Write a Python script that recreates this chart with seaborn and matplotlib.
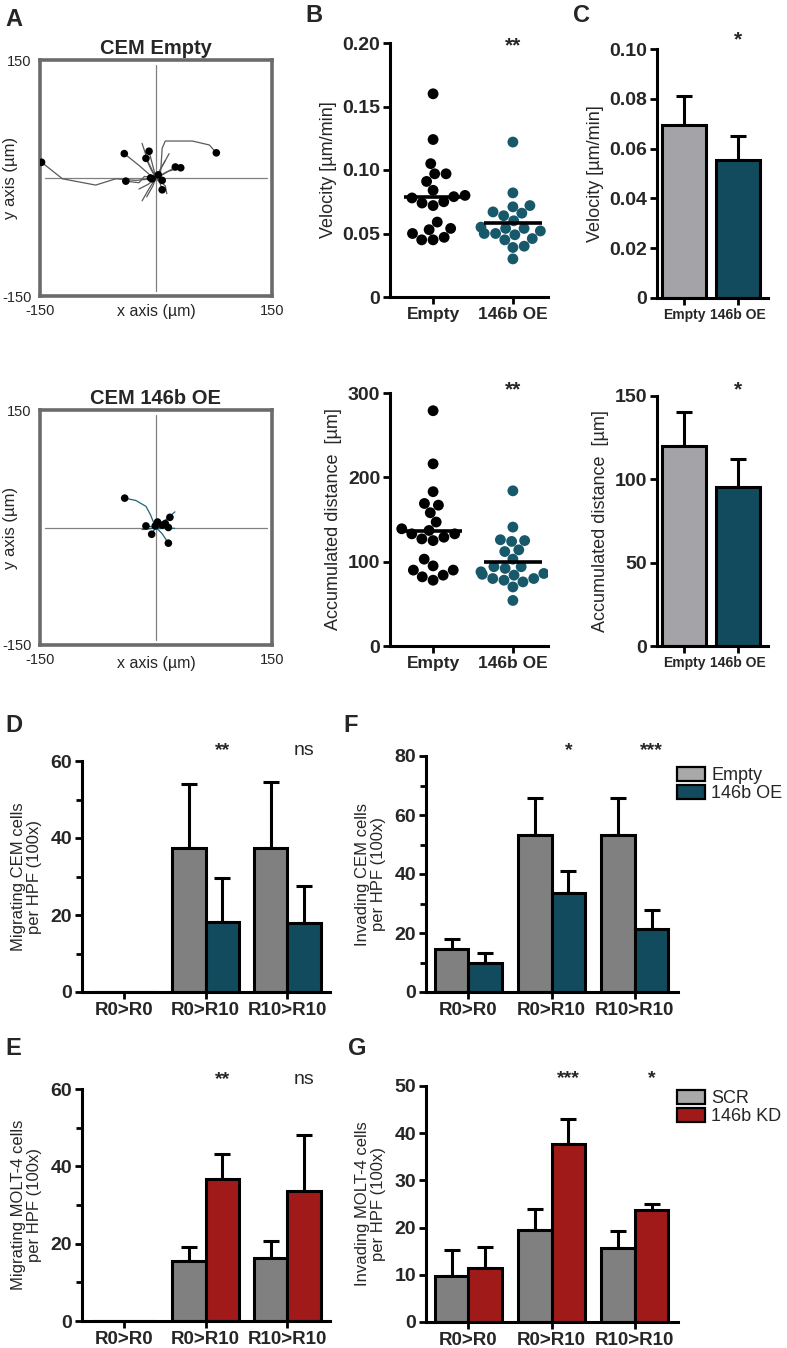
import numpy as np
import pandas as pd
import matplotlib
matplotlib.use("Agg")
import matplotlib.pyplot as plt
from matplotlib.patches import Patch
from matplotlib.ticker import MultipleLocator
import seaborn as sns

# --- data ---
GROUPS = ["Empty", "146b OE"]
KD_GROUPS = ["SCR", "146b KD"]
CONDITIONS = ["R0>R0", "R0>R10", "R10>R10"]

# A: cell tracks in um, each track runs from the origin to the final cell position
EMPTY_TRACKS = [
    [(0, 0), (-5, -1), (-26, -3), (-52, -1), (-78, -9), (-121, -1), (-148, 20)],
    [(0, 0), (2, 0), (6, 8), (8, 38), (12, 47), (47, 47), (69, 42), (78, 32)],
    [(0, 0), (-8, 4), (-22, 16), (-41, 31)],
    [(0, 0), (-4, 15), (-9, 34)],
    [(0, 0), (-6, 10), (-13, 25)],
    [(0, 0), (-15, 2), (-22, -6), (-39, -4)],
    [(0, 0), (10, 5), (25, 14)],
    [(0, 0), (14, 8), (32, 13)],
    [(0, 0), (5, -6), (8, -15)],
    [(0, 0), (-5, -1)],
    [(0, 0), (3, 4)],
    [(0, 0), (8, -3)],
    [(0, 0), (-7, 0)],
    [(0, 0), (-8, -12), (-18, -29)],
    [(0, 0), (-10, 20), (-18, 44)],
    [(0, 0), (8, 15), (17, 31)],
    [(0, 0), (-10, -8), (-22, -14)],
    [(0, 0), (12, -10), (14, -20)],
    [(0, 0), (-4, -10), (-12, -24)],
    [(0, 0), (6, 12), (12, 22)],
]
EMPTY_MARKED = [True] * 13 + [False] * 7

OE_TRACKS = [
    [(0, 0), (-2.6, 5), (-7, 16), (-13, 27), (-26, 34.5), (-40.5, 37.5)],
    [(0, 0), (10, 6), (18, 13)],
    [(0, 0), (8, -8), (16, -20)],
    [(0, 0), (-6, 1), (-13, 2)],
    [(0, 0), (-3, -4), (-5.6, -8.6)],
    [(0, 0), (2, 7)],
    [(0, 0), (8, 3)],
    [(0, 0), (12, 5)],
    [(0, 0), (16, 0)],
    [(0, 0), (-1, 2)],
    [(0, 0), (15, 12), (24.5, 20)],
    [(0, 0), (-10, -2), (-18, -2.6)],
    [(0, 0), (10, -1), (24, -1)],
]
OE_MARKED = [True] * 10 + [False] * 3

# B: single cell values
VEL_EMPTY = [0.160, 0.124, 0.105, 0.097, 0.097, 0.091, 0.084, 0.080, 0.078, 0.075,
             0.079, 0.074, 0.072, 0.059, 0.053, 0.054, 0.047, 0.050, 0.045, 0.045]
VEL_OE = [0.122, 0.082, 0.071, 0.072, 0.066, 0.064, 0.067, 0.060, 0.055, 0.054,
          0.054, 0.052, 0.050, 0.049, 0.050, 0.045, 0.046, 0.039, 0.040, 0.030]
DIST_EMPTY = [279, 216, 183, 167, 169, 158, 147, 137, 139, 133, 133,
              129, 125, 127, 103, 95, 90, 90, 84, 82, 78]
DIST_OE = [184, 141, 124, 125, 126, 112, 114, 103, 92, 94, 94,
           84, 85, 86, 88, 80, 80, 76, 78, 70, 54]

# C: mean + SEM
C_VEL_MEAN = [0.0693, 0.0554]
C_VEL_ERR = [0.0117, 0.0097]
C_DIST_MEAN = [120.0, 95.6]
C_DIST_ERR = [20.6, 16.4]

# D-G: cells per HPF, mean + error
D_EMPTY = [0, 37.3, 37.3]
D_EMPTY_ERR = [0, 16.6, 17.2]
D_OE = [0, 18.2, 17.9]
D_OE_ERR = [0, 11.3, 9.6]

F_EMPTY = [14.7, 53.2, 53.2]
F_EMPTY_ERR = [3.1, 12.7, 12.7]
F_OE = [9.8, 33.6, 21.2]
F_OE_ERR = [3.4, 7.4, 6.7]

E_SCR = [0, 15.6, 16.2]
E_SCR_ERR = [0, 3.6, 4.5]
E_KD = [0, 36.7, 33.6]
E_KD_ERR = [0, 6.5, 14.6]

G_SCR = [9.8, 19.4, 15.6]
G_SCR_ERR = [5.5, 4.6, 3.7]
G_KD = [11.5, 37.7, 23.8]
G_KD_ERR = [4.3, 5.4, 1.1]

D_SIG = ["", "**", "ns"]
F_SIG = ["", "*", "***"]
E_SIG = ["", "**", "ns"]
G_SIG = ["", "***", "*"]

# --- style ---
GRAY_LIGHT = "#a4a3a8"
GRAY_DARK = "#808080"
TEAL = "#124b5d"
TEAL_DOT = "#17586b"
RED = "#a01a1a"

sns.set_theme(style="ticks")
plt.rcParams["font.family"] = ["Liberation Sans", "DejaVu Sans"]

W, H = 787, 1348
fig = plt.figure(figsize=(W / 100, H / 100), dpi=100)


def add_ax(x0, y0, x1, y1):
    return fig.add_axes([x0 / W, 1 - y1 / H, (x1 - x0) / W, (y1 - y0) / H])


def style_axis(ax):
    sns.despine(ax=ax)
    for s in ["left", "bottom"]:
        ax.spines[s].set_linewidth(2.2)
        ax.spines[s].set_color("black")
    ax.tick_params(axis="both", which="major", direction="out", length=5, width=2,
                   color="black", pad=2)
    ax.tick_params(axis="both", which="minor", direction="out", length=4, width=2,
                   color="black")


def sig_text(ax, x, s, raise_pt, size=14):
    # glyph centre sits roughly raise_pt above the top of the axis
    ax.annotate(s, xy=(x, ax.get_ylim()[1]), xytext=(0, raise_pt - 0.4 * size),
                textcoords="offset points", ha="center", va="baseline",
                fontsize=size, fontweight="normal" if s == "ns" else "bold",
                annotation_clip=False)


# --- A: track plots ---
def track_panel(box, tracks, marked, line_color, title, xlab_y):
    ax = add_ax(*box)
    rows = []
    for i, tr in enumerate(tracks):
        for j, (x, y) in enumerate(tr):
            rows.append({"track": i, "step": j, "x": x, "y": y})
    df = pd.DataFrame(rows)
    ax.axhline(0, xmin=0.02, xmax=0.98, color="#808080", lw=0.9, zorder=1)
    ax.axvline(0, ymin=0.02, ymax=0.98, color="#808080", lw=0.9, zorder=1)
    sns.lineplot(data=df, x="x", y="y", units="track", estimator=None, sort=False,
                 color=line_color, lw=0.9, ax=ax, zorder=2)
    ends = df.groupby("track").tail(1).reset_index(drop=True)
    ends = ends[np.array(marked)]
    sns.scatterplot(data=ends, x="x", y="y", color="black", s=30, edgecolor="none",
                    ax=ax, zorder=3)
    ax.set_xlim(-150, 150)
    ax.set_ylim(-150, 150)
    ax.set_xticks([-150, 150], ["-150", "150"], fontsize=10.5)
    ax.set_yticks([-150, 150], ["-150", "150"], fontsize=10.5)
    ax.tick_params(length=0, pad=6)
    for s in ax.spines.values():
        s.set_visible(True)
        s.set_color("#6b6b6b")
        s.set_linewidth(2.6)
    ax.set_xlabel("x axis (\u00b5m)", fontsize=11.5)
    ax.xaxis.set_label_coords(0.5, xlab_y)
    ax.set_ylabel("y axis (\u00b5m)", fontsize=12)
    ax.yaxis.set_label_coords(-0.095, 0.5)
    ax.set_title(title, fontsize=14.5, fontweight="bold", pad=4)
    ax.set_facecolor("white")


track_panel((40, 60, 272, 296), EMPTY_TRACKS, EMPTY_MARKED, "#5a5a5a", "CEM Empty", -0.035)
track_panel((40, 410, 272, 645), OE_TRACKS, OE_MARKED, "#1f6377", "CEM 146b OE", -0.045)


# --- B: scatter with mean ---
def swarm_panel(box, empty_vals, oe_vals, ylim, ticks, labels, ylabel, sig_raise):
    ax = add_ax(*box)
    df = pd.DataFrame({
        "group": [GROUPS[0]] * len(empty_vals) + [GROUPS[1]] * len(oe_vals),
        "value": list(empty_vals) + list(oe_vals),
    })
    sns.swarmplot(data=df, x="group", y="value", hue="group", order=GROUPS,
                  palette=["black", TEAL_DOT], size=7.8, legend=False, ax=ax, zorder=2)
    means = df.groupby("group")["value"].mean().reindex(GROUPS)
    for i, m in enumerate(means):
        ax.plot([i - 0.36, i + 0.36], [m, m], color="black", lw=2.6, zorder=4,
                solid_capstyle="butt")
    ax.set_xlim(-0.54, 1.44)
    ax.set_ylim(*ylim)
    style_axis(ax)
    ax.set_yticks(ticks, labels, fontsize=14, fontweight="bold")
    ax.set_xticks([0, 1], GROUPS, fontsize=12.5, fontweight="bold")
    ax.set_xlabel("")
    ax.set_ylabel(ylabel, fontsize=13, labelpad=4)
    sig_text(ax, 1, "**", sig_raise, size=15)
    return ax


swarm_panel((390, 43, 548, 297), VEL_EMPTY, VEL_OE, (0, 0.20),
            [0, 0.05, 0.10, 0.15, 0.20], ["0", "0.05", "0.10", "0.15", "0.20"],
            "Velocity [\u00b5m/min]", 0)
swarm_panel((390, 393, 548, 646), DIST_EMPTY, DIST_OE, (0, 300),
            [0, 100, 200, 300], ["0", "100", "200", "300"],
            "Accumulated distance  [\u00b5m]", 4.3)


def add_errors(ax, containers, errs):
    for cont, err in zip(containers, errs):
        for bar, e in zip(cont, err):
            if e <= 0:
                continue
            x = bar.get_x() + bar.get_width() / 2
            top = bar.get_height()
            ax.errorbar(x, top, yerr=[[0], [e]], color="black", elinewidth=2.2,
                        capsize=6, capthick=2.2, fmt="none", zorder=0.5)


# --- C: simple bars ---
def bar_panel(box, means, errs, ylim, ticks, labels, ylabel, sig_raise):
    ax = add_ax(*box)
    df = pd.DataFrame({"group": GROUPS, "value": means})
    sns.barplot(data=df, x="group", y="value", hue="group", order=GROUPS,
                palette=[GRAY_LIGHT, TEAL], saturation=1, width=0.81, errorbar=None,
                edgecolor="black", linewidth=2.2, legend=False, ax=ax, zorder=2)
    add_errors(ax, [[b] for b in ax.patches], [[e] for e in errs])
    ax.set_xlim(-0.5, 1.56)
    ax.set_ylim(*ylim)
    style_axis(ax)
    ax.set_yticks(ticks, labels, fontsize=14, fontweight="bold")
    ax.set_xticks([0, 1], GROUPS, fontsize=10, fontweight="bold")
    ax.set_xlabel("")
    ax.set_ylabel(ylabel, fontsize=13, labelpad=4)
    sig_text(ax, 1, "*", sig_raise, size=15)
    return ax


bar_panel((657, 49, 768, 298), C_VEL_MEAN, C_VEL_ERR, (0, 0.10),
          [0, 0.02, 0.04, 0.06, 0.08, 0.10], ["0", "0.02", "0.04", "0.06", "0.08", "0.10"],
          "Velocity [\u00b5m/min]", 8.6)
bar_panel((657, 396, 768, 646), C_DIST_MEAN, C_DIST_ERR, (0, 150),
          [0, 50, 100, 150], ["0", "50", "100", "150"],
          "Accumulated distance  [\u00b5m]", 6.5)


# --- D-G: grouped bars ---
def grouped_panel(box, names, vals, errs, colors, ymax, major, minor, ylabel,
                  sigs, sig_raise, legend_colors=None, legend_y=None):
    ax = add_ax(*box)
    df = pd.DataFrame({
        "condition": CONDITIONS * 2,
        "group": [names[0]] * 3 + [names[1]] * 3,
        "value": list(vals[0]) + list(vals[1]),
    })
    sns.barplot(data=df, x="condition", y="value", hue="group", order=CONDITIONS,
                hue_order=names, palette=colors, saturation=1, width=0.81, errorbar=None,
                edgecolor="black", linewidth=2.2, legend=False, ax=ax, zorder=2)
    add_errors(ax, ax.containers, errs)
    ax.set_xlim(-0.51, 2.52)
    ax.set_ylim(0, ymax)
    style_axis(ax)
    yt = np.arange(0, ymax + 1, major)
    ax.set_yticks(yt, [f"{v:.0f}" for v in yt], fontsize=14, fontweight="bold")
    if minor:
        ax.yaxis.set_minor_locator(MultipleLocator(minor))
    ax.set_xticks(range(3), CONDITIONS, fontsize=13.5, fontweight="bold")
    ax.set_xlabel("")
    ax.set_ylabel(ylabel, fontsize=12, labelpad=6, linespacing=1.1)
    second = ax.containers[1]
    for bar, s in zip(second, sigs):
        if s:
            sig_text(ax, bar.get_x() + bar.get_width() / 2, s, sig_raise)
    if legend_colors is not None:
        handles = [Patch(facecolor=c, edgecolor="black", linewidth=1.6) for c in legend_colors]
        ax.legend(handles, names, loc="upper left", bbox_to_anchor=(0.995, legend_y),
                  frameon=False, fontsize=13, handlelength=1.55, handleheight=0.85,
                  handletextpad=0.35, labelspacing=0.05, borderaxespad=0, borderpad=0)
    return ax


grouped_panel((82, 761, 330, 992), GROUPS, [D_EMPTY, D_OE], [D_EMPTY_ERR, D_OE_ERR],
              [GRAY_DARK, TEAL], 60, 20, 10, "Migrating CEM cells\nper HPF (100x)",
              D_SIG, 10)
grouped_panel((426, 756, 678, 992), GROUPS, [F_EMPTY, F_OE], [F_EMPTY_ERR, F_OE_ERR],
              [GRAY_DARK, TEAL], 80, 20, 10, "Invading CEM cells\nper HPF (100x)",
              F_SIG, 6.5, legend_colors=["#a9a9a9", TEAL], legend_y=0.955)
grouped_panel((82, 1089, 330, 1321), KD_GROUPS, [E_SCR, E_KD], [E_SCR_ERR, E_KD_ERR],
              [GRAY_DARK, RED], 60, 20, 10, "Migrating MOLT-4 cells\nper HPF (100x)",
              E_SIG, 9.4)
grouped_panel((426, 1086, 678, 1322), KD_GROUPS, [G_SCR, G_KD], [G_SCR_ERR, G_KD_ERR],
              [GRAY_DARK, RED], 50, 10, None, "Invading MOLT-4 cells\nper HPF (100x)",
              G_SIG, 8, legend_colors=["#a9a9a9", RED], legend_y=0.985)

# --- panel letters ---
for letter, (x, y) in {"A": (5, 8), "B": (305, 4), "C": (573, 4), "D": (5, 714),
                       "F": (343, 714), "E": (5, 1037), "G": (348, 1037)}.items():
    fig.text(x / W, 1 - y / H, letter, fontsize=17, fontweight="bold", ha="left", va="top")

fig.savefig("out.png", dpi=100, facecolor="white")
